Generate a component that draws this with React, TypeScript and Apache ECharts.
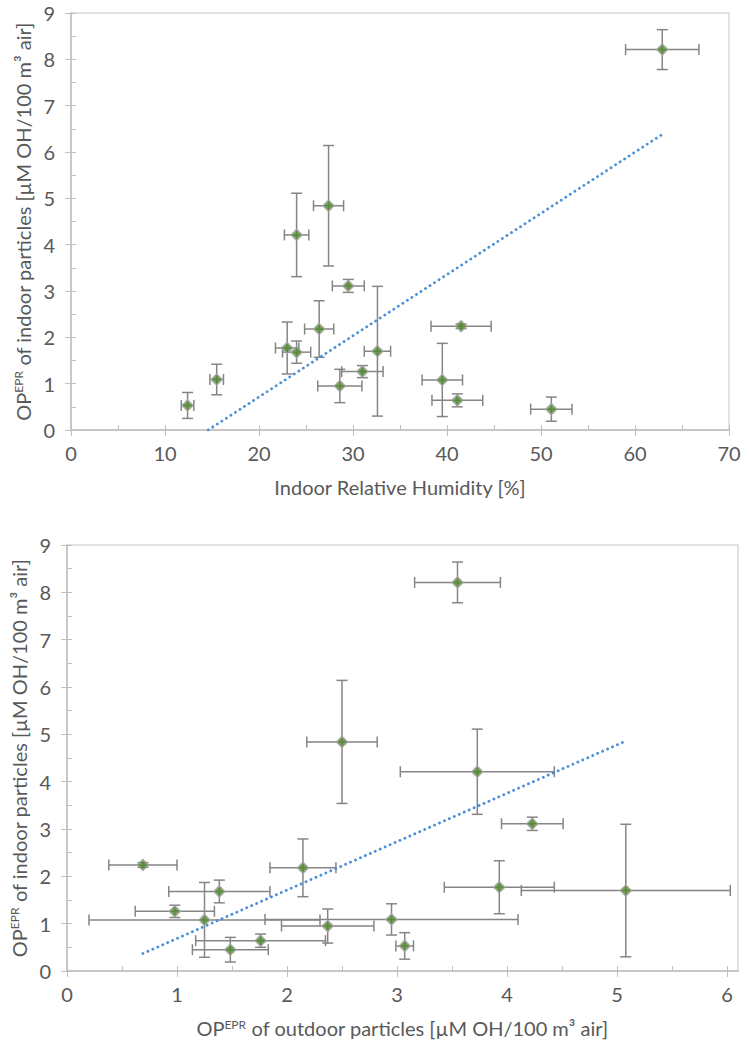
import { useEffect, useRef } from 'react';
import * as echarts from 'echarts';

// ---- data ----
const humidity = [62.9, 41.5, 39.5, 41.1, 51.1, 12.4, 15.5, 24.0, 27.4, 29.5, 26.4, 23.0, 24.0, 32.6, 31.0, 28.6];
const humidityErr = [3.9, 3.2, 2.15, 2.7, 2.2, 0.67, 0.72, 1.3, 1.6, 1.7, 1.55, 1.25, 1.5, 1.4, 2.2, 2.35];
const outdoorOP = [3.55, 0.69, 1.25, 1.76, 1.485, 3.07, 2.95, 3.73, 2.5, 4.23, 2.145, 3.93, 1.385, 5.08, 0.98, 2.37];
const outdoorOPErr = [0.39, 0.31, 1.05, 0.59, 0.345, 0.08, 1.15, 0.7, 0.32, 0.28, 0.3, 0.5, 0.46, 0.95, 0.36, 0.42];
const indoorOP = [8.21, 2.24, 1.08, 0.64, 0.45, 0.53, 1.09, 4.21, 4.84, 3.11, 2.18, 1.77, 1.68, 1.7, 1.26, 0.95];
const indoorOPErr = [0.43, 0.05, 0.79, 0.14, 0.26, 0.28, 0.33, 0.9, 1.3, 0.14, 0.61, 0.56, 0.24, 1.4, 0.13, 0.36];

const humidityTrend = [[14.6, 0], [62.9, 6.38]];
const outdoorTrend = [[0.69, 0.37], [5.08, 4.86]];

const outdoorTicks = [0, 1, 2, 3, 4, 5, 6];
const outdoorMinorTicks = [0, 0.5, 1, 1.5, 2, 2.5, 3, 3.5, 4, 4.5, 5, 5.5, 6];

const TEXT = '#595959';
const AXIS = '#bfbfbf';
const FONT = 'Lato';
const FS = 20;

const nameStyle = {
  color: TEXT,
  fontFamily: FONT,
  fontSize: FS,
  rich: {
    sup: { fontSize: 12, fontFamily: FONT, color: TEXT, verticalAlign: 'top' },
  },
};

function errorSeries(xs: number[], xe: number[], ys: number[], ye: number[], xi: number, yi: number) {
  return {
    type: 'custom',
    xAxisIndex: xi,
    yAxisIndex: yi,
    data: xs.map((x, i) => [x, ys[i], xe[i], ye[i]]),
    encode: { x: 0, y: 1 },
    clip: false,
    z: 2,
    renderItem: (_p: any, api: any) => {
      const x = api.value(0), y = api.value(1), ex = api.value(2), ey = api.value(3);
      const l = api.coord([x - ex, y]);
      const r = api.coord([x + ex, y]);
      const t = api.coord([x, y + ey]);
      const b = api.coord([x, y - ey]);
      const cap = 5.5;
      const style = { stroke: '#858585', lineWidth: 1.5, fill: 'none' };
      const seg = (x1: number, y1: number, x2: number, y2: number) => ({ type: 'line', shape: { x1, y1, x2, y2 }, style });
      return {
        type: 'group',
        children: [
          seg(l[0], l[1], r[0], r[1]),
          seg(l[0], l[1] - cap, l[0], l[1] + cap),
          seg(r[0], r[1] - cap, r[0], r[1] + cap),
          seg(t[0], t[1], b[0], b[1]),
          seg(t[0] - cap, t[1], t[0] + cap, t[1]),
          seg(b[0] - cap, b[1], b[0] + cap, b[1]),
        ],
      };
    },
  };
}

function scatterSeries(xs: number[], ys: number[], xi: number, yi: number) {
  return {
    type: 'scatter',
    xAxisIndex: xi,
    yAxisIndex: yi,
    data: xs.map((x, i) => [x, ys[i]]),
    symbol: 'diamond',
    symbolSize: 11,
    itemStyle: { color: '#4f8a2a', borderColor: '#a3a3a3', borderWidth: 1.6 },
    z: 4,
  };
}

function trendSeries(pts: number[][], xi: number, yi: number) {
  return {
    type: 'line',
    xAxisIndex: xi,
    yAxisIndex: yi,
    data: pts,
    symbol: 'none',
    lineStyle: { color: '#4a90d9', width: 2.8, type: [0.1, 5.3], cap: 'round' },
    z: 3,
  };
}

const labelStyle = { color: TEXT, fontFamily: FONT, fontSize: FS };

export default function App() {
  const ref = useRef<HTMLDivElement>(null);
  useEffect(() => {
    if (!ref.current) return;
    const chart = echarts.init(ref.current, undefined, { renderer: 'svg' });
    const option: any = {
      animation: false,
      backgroundColor: '#ffffff',
      grid: [
        { left: 71, top: 13, width: 658, height: 417, show: true, borderColor: '#d9d9d9', borderWidth: 1.5, containLabel: false },
        { left: 67, top: 545, width: 671, height: 426, show: true, borderColor: '#d9d9d9', borderWidth: 1.5, containLabel: false },
      ],
      xAxis: [
        {
          gridIndex: 0, type: 'value', min: 0, max: 70, interval: 10, position: 'bottom',
          axisLine: { onZero: false, lineStyle: { color: AXIS, width: 1.5 } },
          axisTick: { inside: false, length: 6, lineStyle: { color: AXIS } },
          axisLabel: { ...labelStyle, margin: 13 },
          splitLine: { show: false },
          name: 'Indoor Relative Humidity [%]', nameLocation: 'middle', nameGap: 47, nameTextStyle: nameStyle,
        },
        {
          gridIndex: 0, type: 'value', min: 0, max: 70, interval: 10, position: 'bottom',
          axisLine: { show: false, onZero: false },
          axisTick: { inside: true, length: 5, lineStyle: { color: AXIS } },
          minorTick: { show: true, splitNumber: 2, length: 5, lineStyle: { color: AXIS } },
          axisLabel: { show: false },
          splitLine: { show: false },
        },
        {
          gridIndex: 1, type: 'value', min: 0, max: 6.1, position: 'bottom',
          axisLine: { onZero: false, lineStyle: { color: AXIS, width: 1.5 } },
          axisTick: { inside: false, length: 6, lineStyle: { color: AXIS }, customValues: outdoorTicks },
          axisLabel: { ...labelStyle, margin: 13, customValues: outdoorTicks },
          splitLine: { show: false },
          name: 'OP{sup|EPR} of outdoor particles [µM OH/100 m³ air]', nameLocation: 'middle', nameGap: 47, nameTextStyle: nameStyle,
        },
        {
          gridIndex: 1, type: 'value', min: 0, max: 6.1, position: 'bottom',
          axisLine: { show: false, onZero: false },
          axisTick: { inside: true, length: 5, lineStyle: { color: AXIS }, customValues: outdoorMinorTicks },
          axisLabel: { show: false },
          splitLine: { show: false },
        },
      ],
      yAxis: [
        {
          gridIndex: 0, type: 'value', min: 0, max: 9, interval: 1, position: 'left',
          axisLine: { show: true, onZero: false, lineStyle: { color: AXIS, width: 1.5 } },
          axisTick: { show: true, inside: false, length: 6, lineStyle: { color: AXIS } },
          axisLabel: { ...labelStyle, margin: 16 },
          splitLine: { show: false },
          name: 'OP{sup|EPR} of indoor particles [µM OH/100 m³ air]', nameLocation: 'middle', nameGap: 36, nameRotate: 90, nameTextStyle: nameStyle,
        },
        {
          gridIndex: 0, type: 'value', min: 0, max: 9, interval: 1, position: 'left',
          axisLine: { show: false, onZero: false },
          axisTick: { show: true, inside: true, length: 5, lineStyle: { color: AXIS } },
          minorTick: { show: true, splitNumber: 2, length: 5, lineStyle: { color: AXIS } },
          axisLabel: { show: false },
          splitLine: { show: false },
        },
        {
          gridIndex: 1, type: 'value', min: 0, max: 9, interval: 1, position: 'left',
          axisLine: { show: true, onZero: false, lineStyle: { color: AXIS, width: 1.5 } },
          axisTick: { show: true, inside: false, length: 6, lineStyle: { color: AXIS } },
          axisLabel: { ...labelStyle, margin: 16 },
          splitLine: { show: false },
          name: 'OP{sup|EPR} of indoor particles [µM OH/100 m³ air]', nameLocation: 'middle', nameGap: 32, nameRotate: 90, nameTextStyle: nameStyle,
        },
        {
          gridIndex: 1, type: 'value', min: 0, max: 9, interval: 1, position: 'left',
          axisLine: { show: false, onZero: false },
          axisTick: { show: true, inside: true, length: 5, lineStyle: { color: AXIS } },
          minorTick: { show: true, splitNumber: 2, length: 5, lineStyle: { color: AXIS } },
          axisLabel: { show: false },
          splitLine: { show: false },
        },
      ],
      series: [
        errorSeries(humidity, humidityErr, indoorOP, indoorOPErr, 0, 0),
        trendSeries(humidityTrend, 0, 0),
        scatterSeries(humidity, indoorOP, 0, 0),
        errorSeries(outdoorOP, outdoorOPErr, indoorOP, indoorOPErr, 2, 2),
        trendSeries(outdoorTrend, 2, 2),
        scatterSeries(outdoorOP, indoorOP, 2, 2),
      ],
    };
    chart.setOption(option);
    return () => chart.dispose();
  }, []);
  return (
    <div
      ref={ref}
      style={{ position: 'absolute', left: 0, top: 0, width: 749, height: 1050, background: '#fff' }}
    />
  );
}
